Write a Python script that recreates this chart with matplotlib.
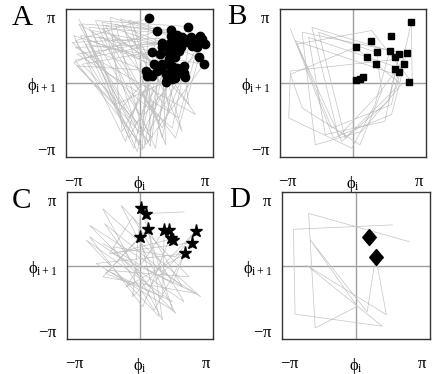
import numpy as np
import matplotlib
matplotlib.use("Agg")
import matplotlib.pyplot as plt

plt.rcParams['font.family'] = 'serif'
plt.rcParams['font.serif'] = ['Liberation Serif', 'DejaVu Serif']
plt.rcParams['mathtext.fontset'] = 'stix'
plt.rcParams['mathtext.default'] = 'regular'

# Panel A: trajectory as triplets (top-left, bottom, cluster point)
a_tl_x = [-2.89, -3.05, -3.13, -2.73, -2.10, -1.38, -0.51, -3.21, -2.97, -2.41,
          -1.78, -0.90, -3.08, -2.81, -2.25, -1.62, -3.05, -2.73, -1.94, -1.14,
          -2.57, -1.30, -3.13, -2.17, -0.35, -2.89, -1.78, -2.97, -0.75, -2.49]
a_tl_y = [3.03, 2.00, 0.97, 2.79, 2.95, 3.11, 2.98, 1.92, 1.37, 2.63,
          2.87, 3.03, 1.08, 2.24, 2.48, 2.71, 1.68, 0.89, 2.16, 2.79,
          1.84, 2.32, 2.24, 1.52, 2.79, 2.79, 2.56, 0.81, 2.48, 2.08]
a_b_x = [0.13, -0.03, 0.44, -0.51, 0.76, -0.83, 1.08, 1.56, 1.87, 0.44,
         -0.19, 1.24, 0.21, -0.51, -0.98, 0.92, 2.67, 0.60, 1.71, 0.29,
         -0.27, 1.40, -0.67, 0.52, 2.03, 0.05, 1.08, -1.14, 2.35, -0.11]
a_b_y = [-3.16, -2.92, -2.76, -2.60, -3.08, -2.29, -2.60, -2.13, -1.65, -2.29,
         -1.97, -2.92, -3.08, -1.65, -1.33, -1.81, -1.49, -2.60, -2.60, -2.92,
         -3.08, -1.33, -2.76, -3.00, -2.29, -2.52, -2.13, -1.02, -1.02, -3.24]
a_c_x = [0.44, 0.84, 1.48, 2.32, 1.48, 1.79, 2.03, 2.43, 2.90, 2.98,
         3.10, 1.08, 1.24, 1.40, 1.56, 1.79, 0.60, 0.97, 2.83, 3.06,
         0.68, 1.08, 0.29, 0.44, 1.24, 1.56, 2.11, 1.24, 2.16, 0.84]
a_c_y = [3.06, 2.48, 2.51, 2.67, 2.21, 2.29, 2.16, 2.16, 2.24, 2.08,
         1.84, 1.87, 1.81, 1.76, 1.68, 1.87, 1.48, 1.37, 1.21, 0.89,
         0.89, 0.89, 0.57, 0.41, 0.41, 0.41, 0.49, 0.06, 0.29, 0.57]
# Panel A markers
a_dot_x = [0.44, 0.84, 1.48, 2.32, 1.48, 1.79, 2.03, 2.43, 2.90, 2.98, 3.10, 1.08,
           1.24, 1.40, 1.56, 1.79, 1.71, 1.95, 2.51, 2.75, 0.60, 0.97, 1.40, 1.56,
           1.71, 2.83, 3.06, 1.40, 0.68, 1.08, 0.92, 1.37, 1.56, 1.79, 2.11, 0.29,
           0.44, 0.60, 0.37, 1.24, 1.40, 1.56, 1.79, 2.11, 1.24, 1.56, 2.16, 1.32,
           1.71, 0.84, 1.00, 1.08, 2.27, 2.63, 1.87, 2.19, 1.48]
a_dot_y = [3.06, 2.48, 2.51, 2.67, 2.21, 2.29, 2.16, 2.16, 2.24, 2.08, 1.84, 1.87,
           1.81, 1.76, 1.68, 1.87, 1.71, 1.71, 1.76, 1.68, 1.48, 1.37, 1.44, 1.37,
           1.21, 1.21, 0.89, 1.13, 0.89, 0.89, 0.73, 0.89, 0.81, 0.73, 0.81, 0.57,
           0.41, 0.33, 0.33, 0.41, 0.49, 0.41, 0.41, 0.49, 0.06, 0.17, 0.29, 0.17,
           0.25, 0.57, 0.65, 1.68, 1.92, 1.92, 1.52, 2.03, 1.92]

# Panel B
b_line_x = [-3.00, -0.94, 1.84, 2.40, -2.13, -1.33, 1.52, 2.00, -2.76, -0.54,
            1.68, 2.16, -3.00, -3.08, -0.06, 1.05, 1.76, -1.97, -0.70, 1.21,
            2.63, -2.44, -1.81, 0.41, 2.32, 0.10, -3.00, -2.44, 0.33, 1.37,
            1.13, -1.65, -0.38, 2.08, 2.79, 2.83, 0.89, -2.68, -1.02, 1.84, 2.19]
b_line_y = [2.56, -2.60, -1.49, 0.65, 2.16, -2.44, -1.81, 0.41, 2.00, -2.76,
            -0.86, 1.13, 0.57, -1.65, -3.08, -1.02, 1.52, 2.63, -2.52, -0.54,
            1.37, 2.40, -2.92, -2.29, -0.06, 1.68, 0.41, -1.17, -2.92, -0.38,
            1.44, 2.40, -2.60, -0.22, 2.87, 0.02, 2.48, 1.84, -2.13, -1.02, 0.57]
b_sq_x = [2.79, 1.84, 0.84, 0.14, 1.13, 1.76, 2.19, 2.03, 2.60, 0.67, 1.11, 2.43,
          2.00, 2.19, 0.16, 0.32, 0.46, 2.67]
b_sq_y = [2.87, 2.24, 2.00, 1.68, 1.48, 1.52, 1.37, 1.24, 1.44, 1.21, 0.89, 0.89,
          0.65, 0.52, 0.16, 0.17, 0.27, 0.06]

# Panel C
c_line_x = [2.11, 0.29, 1.08, -1.78, 2.90, -2.41, 1.71, -0.90, 2.35, -1.62,
            1.56, -2.57, 0.92, 0.00, -1.78, 2.67, -1.30, 1.40, 0.13, -2.41,
            2.11, -0.35, -1.46, 2.48, 0.44, -1.70, 2.03, 0.37, -1.62, 1.08,
            1.16, -0.67, 2.19, -2.10, 1.56, 0.05, -0.35, 2.67, 1.71, -1.30,
            0.68, 2.16, 1.56, -1.78]
c_line_y = [2.56, 2.48, -2.60, 2.71, -1.49, 1.92, -2.29, 2.87, -0.54, -0.22,
            -1.73, 1.21, -2.44, 1.37, -0.54, -1.33, 0.57, 1.24, -1.97, 1.37,
            -1.73, 2.32, 0.57, 1.10, -1.02, 2.00, -1.02, 1.76, -0.38, -1.49,
            1.68, -1.02, 0.57, 0.10, -2.13, 2.76, -1.49, 1.65, 0.41, 0.89,
            -2.13, 0.60, -0.86, 1.05]
c_star_x = [0.05, 0.29, 0.37, 0.00, 1.16, 1.40, 1.48, 1.56, 2.67, 2.48, 2.16]
c_star_y = [2.76, 2.48, 1.76, 1.37, 1.68, 1.71, 1.33, 1.24, 1.65, 1.10, 0.60]

# Panel D
d_line_x = [1.71, -2.97, -2.89, 1.24, -2.33, 1.43, 0.92, 0.52, -2.17, 0.05,
            -1.94, -2.25, 2.51]
d_line_y = [1.94, 1.73, -2.32, -2.90, 0.00, -2.35, 0.43, -2.22, 1.22, -1.95,
            -2.98, 2.49, 1.14]
d_dia_x = [0.63, 0.92]
d_dia_y = [1.38, 0.43]

# interleave panel A triplets into one path
a_line_x = np.ravel(np.column_stack([a_tl_x, a_b_x, a_c_x]))
a_line_y = np.ravel(np.column_stack([a_tl_y, a_b_y, a_c_y]))

diamond = [(0, 1), (0.85, 0), (0, -1), (-0.85, 0), (0, 1)]

panels = [
    ("A", a_line_x, a_line_y, a_dot_x, a_dot_y, 'o', 6),
    ("B", b_line_x, b_line_y, b_sq_x, b_sq_y, 's', 4.4),
    ("C", c_line_x, c_line_y, c_star_x, c_star_y, '*', 9.5),
    ("D", d_line_x, d_line_y, d_dia_x, d_dia_y, diamond, 11.5),
]
positions = [[0.149, 0.580, 0.332, 0.396], [0.632, 0.580, 0.330, 0.396],
             [0.151, 0.094, 0.330, 0.392], [0.637, 0.094, 0.334, 0.392]]
letter_pos = [(12, 25), (227, 24), (12, 208), (229, 207)]

fig = plt.figure(figsize=(4.43, 3.74), dpi=100)
for (name, lx, ly, mx, my, mk, ms), pos, (px, py) in zip(panels, positions, letter_pos):
    ax = fig.add_axes(pos)
    ax.axhline(0, color='#a0a0a0', lw=1.0, zorder=1)
    ax.axvline(0, color='#a0a0a0', lw=1.0, zorder=1)
    ax.plot(lx, ly, color='#c4c4c4', lw=0.5, zorder=2)
    ax.plot(mx, my, linestyle='none', marker=mk, ms=ms, color='black', zorder=3)
    ax.set_xlim(-3.5, 3.5)
    ax.set_ylim(-3.5, 3.5)
    ax.set_xticks([-np.pi, 0, np.pi])
    ax.set_xticklabels([r'$-\pi$', r'$\phi_i$', r'$\pi$'])
    ax.set_yticks([-np.pi, 0, np.pi])
    ax.set_yticklabels([r'$-\pi$', r'$\phi_{i+1}$', r'$\pi$'])
    ax.tick_params(length=0, labelsize=12)
    ax.tick_params(axis='x', pad=12)
    ax.tick_params(axis='y', pad=7)
    for s in ax.spines.values():
        s.set_color('#333333')
        s.set_linewidth(1.0)
    fig.text(px / 443, 1 - py / 374, name, fontsize=21, va='baseline', ha='left')

fig.savefig("out.png", dpi=100)
